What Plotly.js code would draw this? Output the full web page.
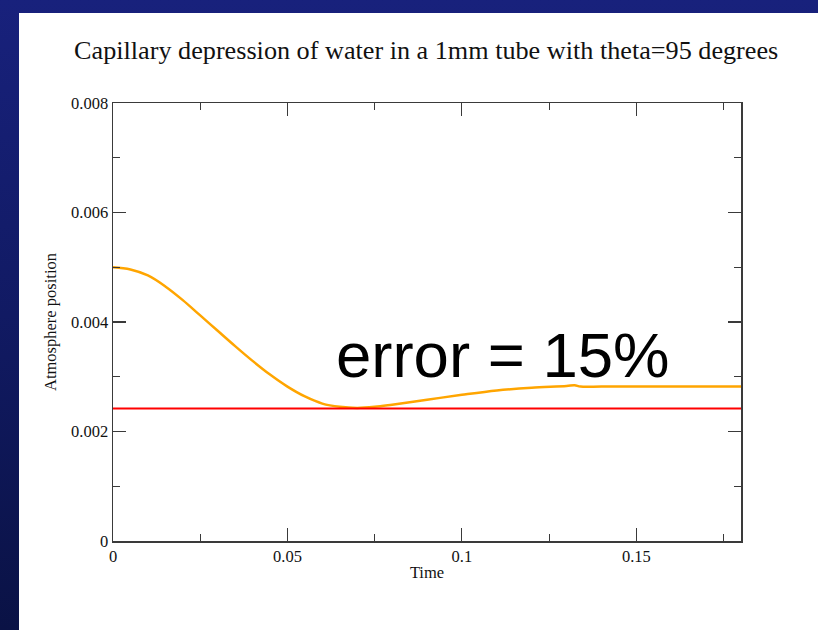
<!DOCTYPE html>
<html>
<head>
<meta charset="utf-8">
<script src="https://cdn.plot.ly/plotly-3.0.1.min.js"></script>
<style>
  html, body { margin: 0; padding: 0; }
  body {
    width: 818px; height: 630px; overflow: hidden; position: relative;
    background: linear-gradient(to bottom, #18217c 0%, #111a63 50%, #0a1245 100%);
  }
  #sheet { position: absolute; left: 19px; top: 13px; right: 0; bottom: 0; background: #ffffff; }
  #chart { position: absolute; left: 0; top: 0; width: 818px; height: 630px; }
</style>
</head>
<body>
<div id="sheet"></div>
<div id="chart"></div>
<script>
// Simulated meniscus position over time
const time = [0, 0.005, 0.01, 0.015, 0.02, 0.025, 0.03, 0.035, 0.04, 0.045, 0.05,
              0.055, 0.06, 0.065, 0.07, 0.075, 0.08, 0.09, 0.1, 0.11, 0.12, 0.13, 0.1323,
              0.134, 0.14, 0.15, 0.16, 0.17, 0.18];
const position = [0.00500, 0.00496, 0.00485, 0.00465, 0.00440, 0.00412, 0.00384, 0.00356,
                  0.00329, 0.00304, 0.00282, 0.00264, 0.00251, 0.00245, 0.00243, 0.00245,
                  0.00249, 0.00258, 0.00267, 0.00275, 0.00280, 0.00283, 0.002846,
                  0.00282, 0.00282, 0.00282, 0.00282, 0.00282, 0.00282];

// Analytical equilibrium height
const eqTime = [0, 0.18];
const eqPosition = [0.00242, 0.00242];

const xTickVals = [0, 0.05, 0.1, 0.15];
const xTickText = ['0', '0.05', '0.1', '0.15'];
const yTickVals = [0, 0.002, 0.004, 0.006, 0.008];
const yTickText = ['0', '0.002', '0.004', '0.006', '0.008'];

const serif = 'Liberation Serif, Times New Roman, serif';
const axisCommon = {
  showline: true, linecolor: '#3a3a3a', linewidth: 1.5, mirror: 'allticks',
  ticks: 'inside', ticklen: 13, tickwidth: 1.2, tickcolor: '#3a3a3a',
  showgrid: false, zeroline: false,
  tickfont: {family: serif, size: 16.5, color: '#111111'},
  tickmode: 'array'
};

const traces = [
  {x: time, y: position, type: 'scatter', mode: 'lines',
   line: {color: '#ffa500', width: 2.5, shape: 'spline', smoothing: 1}, hoverinfo: 'skip'},
  {x: eqTime, y: eqPosition, type: 'scatter', mode: 'lines',
   line: {color: '#ff0000', width: 2}, hoverinfo: 'skip'}
];

const layout = {
  width: 818, height: 630,
  paper_bgcolor: 'rgba(0,0,0,0)', plot_bgcolor: '#ffffff',
  showlegend: false,
  margin: {l: 113, r: 77, t: 103, b: 89},
  title: {text: 'Capillary depression of water in a 1mm tube with theta=95 degrees',
          font: {family: serif, size: 26.2, color: '#111111'},
          x: 0.521, xanchor: 'center', y: 1 - 50 / 630, yanchor: 'middle', yref: 'container'},
  xaxis: Object.assign({}, axisCommon, {
    range: [0, 0.18], tickvals: xTickVals, ticktext: xTickText,
    minor: {dtick: 0.025, ticks: 'inside', ticklen: 7, tickcolor: '#3a3a3a', tickwidth: 1.2},
    title: {text: 'Time', font: {family: serif, size: 16.5, color: '#111111'}, standoff: 1}
  }),
  yaxis: Object.assign({}, axisCommon, {
    range: [0, 0.008], tickvals: yTickVals, ticktext: yTickText,
    minor: {dtick: 0.001, ticks: 'inside', ticklen: 7, tickcolor: '#3a3a3a', tickwidth: 1.2},
    title: {text: 'Atmosphere position', font: {family: serif, size: 16.5, color: '#111111'}, standoff: 10}
  }),
  annotations: [{
    text: 'error = 15%', x: 0.1117, y: 0.00339, xref: 'x', yref: 'y',
    showarrow: false, xanchor: 'center', yanchor: 'middle',
    font: {family: 'Liberation Sans, Arial, sans-serif', size: 63.5, color: '#000000'}
  }]
};

Plotly.newPlot('chart', traces, layout, {staticPlot: true, displayModeBar: false});
</script>
</body>
</html>
